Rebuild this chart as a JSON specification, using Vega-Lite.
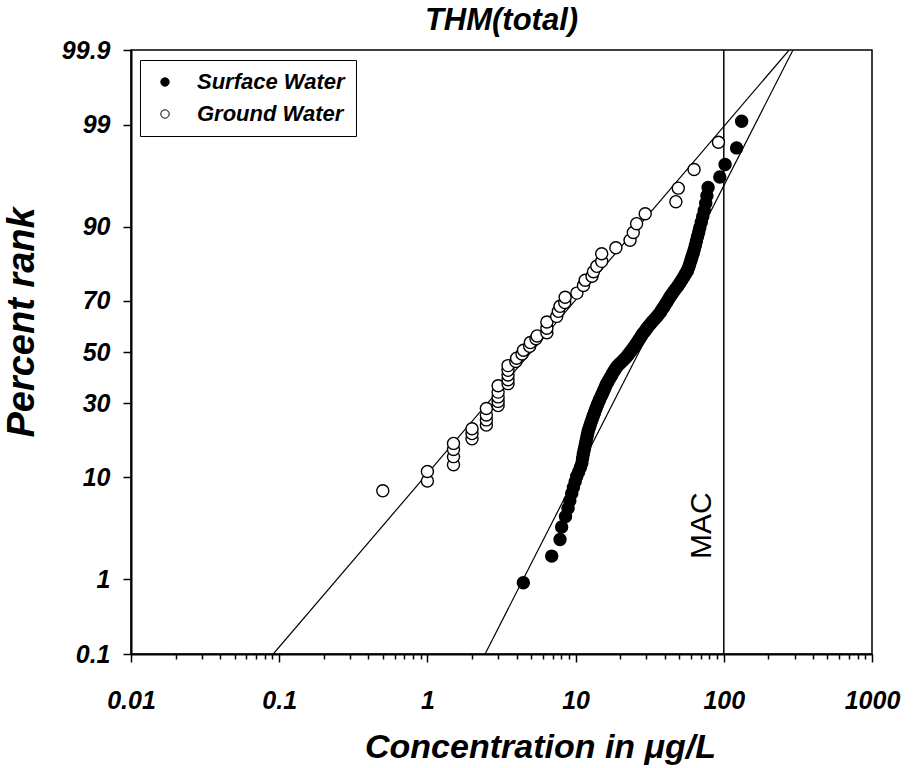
{
  "$schema": "https://vega.github.io/schema/vega-lite/v6.json",
  "width": 741,
  "height": 604,
  "autosize": "none",
  "padding": {"left": 131, "top": 50, "right": 43, "bottom": 114},
  "background": "white",
  "title": {"text": "THM(total)", "font": "Liberation Sans", "fontSize": 31, "fontWeight": "bold", "fontStyle": "italic", "color": "black", "anchor": "middle", "frame": "group", "offset": 15, "baseline": "alphabetic", "dy": 38},
  "config": {"view": {"stroke": "black", "strokeWidth": 1.5}, "font": "Liberation Sans"},
  "datasets": {
    "points": [
      {"series": "Ground Water", "conc": 0.5, "rank": 7.8},
      {"series": "Ground Water", "conc": 1.0, "rank": 9.4},
      {"series": "Ground Water", "conc": 1.0, "rank": 11.2},
      {"series": "Ground Water", "conc": 1.5, "rank": 12.6},
      {"series": "Ground Water", "conc": 1.5, "rank": 14.3},
      {"series": "Ground Water", "conc": 1.5, "rank": 16.0},
      {"series": "Ground Water", "conc": 1.5, "rank": 17.6},
      {"series": "Ground Water", "conc": 2.0, "rank": 18.8},
      {"series": "Ground Water", "conc": 2.0, "rank": 20.2},
      {"series": "Ground Water", "conc": 2.0, "rank": 21.7},
      {"series": "Ground Water", "conc": 2.5, "rank": 22.8},
      {"series": "Ground Water", "conc": 2.5, "rank": 24.4},
      {"series": "Ground Water", "conc": 2.5, "rank": 26.0},
      {"series": "Ground Water", "conc": 2.5, "rank": 28.2},
      {"series": "Ground Water", "conc": 3.0, "rank": 29.2},
      {"series": "Ground Water", "conc": 3.0, "rank": 30.7},
      {"series": "Ground Water", "conc": 3.0, "rank": 32.4},
      {"series": "Ground Water", "conc": 3.0, "rank": 34.2},
      {"series": "Ground Water", "conc": 3.0, "rank": 36.6},
      {"series": "Ground Water", "conc": 3.5, "rank": 37.4},
      {"series": "Ground Water", "conc": 3.5, "rank": 38.9},
      {"series": "Ground Water", "conc": 3.5, "rank": 40.7},
      {"series": "Ground Water", "conc": 3.5, "rank": 42.6},
      {"series": "Ground Water", "conc": 3.5, "rank": 44.5},
      {"series": "Ground Water", "conc": 3.95, "rank": 46.2},
      {"series": "Ground Water", "conc": 4.0, "rank": 47.5},
      {"series": "Ground Water", "conc": 4.35, "rank": 49.2},
      {"series": "Ground Water", "conc": 4.45, "rank": 50.7},
      {"series": "Ground Water", "conc": 4.9, "rank": 52.3},
      {"series": "Ground Water", "conc": 4.95, "rank": 53.8},
      {"series": "Ground Water", "conc": 5.4, "rank": 55.4},
      {"series": "Ground Water", "conc": 5.5, "rank": 56.5},
      {"series": "Ground Water", "conc": 6.4, "rank": 57.8},
      {"series": "Ground Water", "conc": 6.4, "rank": 59.6},
      {"series": "Ground Water", "conc": 6.4, "rank": 62.0},
      {"series": "Ground Water", "conc": 7.45, "rank": 64.1},
      {"series": "Ground Water", "conc": 7.65, "rank": 66.0},
      {"series": "Ground Water", "conc": 7.85, "rank": 67.9},
      {"series": "Ground Water", "conc": 8.45, "rank": 69.3},
      {"series": "Ground Water", "conc": 8.5, "rank": 71.2},
      {"series": "Ground Water", "conc": 10.2, "rank": 72.6},
      {"series": "Ground Water", "conc": 11.3, "rank": 75.2},
      {"series": "Ground Water", "conc": 11.6, "rank": 76.8},
      {"series": "Ground Water", "conc": 12.9, "rank": 78.0},
      {"series": "Ground Water", "conc": 13.2, "rank": 79.4},
      {"series": "Ground Water", "conc": 13.9, "rank": 80.9},
      {"series": "Ground Water", "conc": 15.0, "rank": 82.2},
      {"series": "Ground Water", "conc": 15.0, "rank": 84.2},
      {"series": "Ground Water", "conc": 18.7, "rank": 85.6},
      {"series": "Ground Water", "conc": 23.3, "rank": 87.2},
      {"series": "Ground Water", "conc": 24.5, "rank": 88.8},
      {"series": "Ground Water", "conc": 25.8, "rank": 90.5},
      {"series": "Ground Water", "conc": 29.5, "rank": 92.1},
      {"series": "Ground Water", "conc": 47.5, "rank": 93.7},
      {"series": "Ground Water", "conc": 49.3, "rank": 95.3},
      {"series": "Ground Water", "conc": 63, "rank": 96.9},
      {"series": "Ground Water", "conc": 92, "rank": 98.4},
      {"series": "Surface Water", "conc": 4.44, "rank": 0.93},
      {"series": "Surface Water", "conc": 6.9, "rank": 1.85},
      {"series": "Surface Water", "conc": 7.85, "rank": 2.78},
      {"series": "Surface Water", "conc": 8.05, "rank": 3.7},
      {"series": "Surface Water", "conc": 8.55, "rank": 4.63},
      {"series": "Surface Water", "conc": 8.89, "rank": 5.56},
      {"series": "Surface Water", "conc": 9.14, "rank": 6.48},
      {"series": "Surface Water", "conc": 9.42, "rank": 7.41},
      {"series": "Surface Water", "conc": 9.66, "rank": 8.33},
      {"series": "Surface Water", "conc": 9.93, "rank": 9.26},
      {"series": "Surface Water", "conc": 10.18, "rank": 10.19},
      {"series": "Surface Water", "conc": 10.47, "rank": 11.11},
      {"series": "Surface Water", "conc": 10.77, "rank": 12.04},
      {"series": "Surface Water", "conc": 11.02, "rank": 12.96},
      {"series": "Surface Water", "conc": 11.14, "rank": 13.89},
      {"series": "Surface Water", "conc": 11.27, "rank": 14.81},
      {"series": "Surface Water", "conc": 11.4, "rank": 15.74},
      {"series": "Surface Water", "conc": 11.53, "rank": 16.67},
      {"series": "Surface Water", "conc": 11.67, "rank": 17.59},
      {"series": "Surface Water", "conc": 11.8, "rank": 18.52},
      {"series": "Surface Water", "conc": 11.94, "rank": 19.44},
      {"series": "Surface Water", "conc": 12.07, "rank": 20.37},
      {"series": "Surface Water", "conc": 12.21, "rank": 21.3},
      {"series": "Surface Water", "conc": 12.41, "rank": 22.22},
      {"series": "Surface Water", "conc": 12.59, "rank": 23.15},
      {"series": "Surface Water", "conc": 12.79, "rank": 24.07},
      {"series": "Surface Water", "conc": 13.0, "rank": 25.0},
      {"series": "Surface Water", "conc": 13.21, "rank": 25.93},
      {"series": "Surface Water", "conc": 13.43, "rank": 26.85},
      {"series": "Surface Water", "conc": 13.62, "rank": 27.78},
      {"series": "Surface Water", "conc": 13.84, "rank": 28.7},
      {"series": "Surface Water", "conc": 14.09, "rank": 29.63},
      {"series": "Surface Water", "conc": 14.32, "rank": 30.56},
      {"series": "Surface Water", "conc": 14.55, "rank": 31.48},
      {"series": "Surface Water", "conc": 14.82, "rank": 32.41},
      {"series": "Surface Water", "conc": 15.07, "rank": 33.33},
      {"series": "Surface Water", "conc": 15.31, "rank": 34.26},
      {"series": "Surface Water", "conc": 15.6, "rank": 35.19},
      {"series": "Surface Water", "conc": 15.85, "rank": 36.11},
      {"series": "Surface Water", "conc": 16.11, "rank": 37.04},
      {"series": "Surface Water", "conc": 16.44, "rank": 37.96},
      {"series": "Surface Water", "conc": 16.79, "rank": 38.89},
      {"series": "Surface Water", "conc": 17.18, "rank": 39.81},
      {"series": "Surface Water", "conc": 17.54, "rank": 40.74},
      {"series": "Surface Water", "conc": 17.91, "rank": 41.67},
      {"series": "Surface Water", "conc": 18.32, "rank": 42.59},
      {"series": "Surface Water", "conc": 18.71, "rank": 43.52},
      {"series": "Surface Water", "conc": 19.23, "rank": 44.44},
      {"series": "Surface Water", "conc": 19.91, "rank": 45.37},
      {"series": "Surface Water", "conc": 20.65, "rank": 46.3},
      {"series": "Surface Water", "conc": 21.38, "rank": 47.22},
      {"series": "Surface Water", "conc": 22.18, "rank": 48.15},
      {"series": "Surface Water", "conc": 22.75, "rank": 49.07},
      {"series": "Surface Water", "conc": 23.38, "rank": 50.0},
      {"series": "Surface Water", "conc": 23.99, "rank": 50.93},
      {"series": "Surface Water", "conc": 24.66, "rank": 51.85},
      {"series": "Surface Water", "conc": 25.29, "rank": 52.78},
      {"series": "Surface Water", "conc": 25.94, "rank": 53.7},
      {"series": "Surface Water", "conc": 26.55, "rank": 54.63},
      {"series": "Surface Water", "conc": 27.16, "rank": 55.56},
      {"series": "Surface Water", "conc": 27.73, "rank": 56.48},
      {"series": "Surface Water", "conc": 28.38, "rank": 57.41},
      {"series": "Surface Water", "conc": 29.24, "rank": 58.33},
      {"series": "Surface Water", "conc": 30.0, "rank": 59.26},
      {"series": "Surface Water", "conc": 30.83, "rank": 60.19},
      {"series": "Surface Water", "conc": 31.84, "rank": 61.11},
      {"series": "Surface Water", "conc": 32.89, "rank": 62.04},
      {"series": "Surface Water", "conc": 33.97, "rank": 62.96},
      {"series": "Surface Water", "conc": 35.16, "rank": 63.89},
      {"series": "Surface Water", "conc": 36.31, "rank": 64.81},
      {"series": "Surface Water", "conc": 37.41, "rank": 65.74},
      {"series": "Surface Water", "conc": 38.28, "rank": 66.67},
      {"series": "Surface Water", "conc": 39.26, "rank": 67.59},
      {"series": "Surface Water", "conc": 40.18, "rank": 68.52},
      {"series": "Surface Water", "conc": 41.21, "rank": 69.44},
      {"series": "Surface Water", "conc": 42.17, "rank": 70.37},
      {"series": "Surface Water", "conc": 43.25, "rank": 71.3},
      {"series": "Surface Water", "conc": 44.57, "rank": 72.22},
      {"series": "Surface Water", "conc": 45.92, "rank": 73.15},
      {"series": "Surface Water", "conc": 47.42, "rank": 74.07},
      {"series": "Surface Water", "conc": 48.98, "rank": 75.0},
      {"series": "Surface Water", "conc": 50.47, "rank": 75.93},
      {"series": "Surface Water", "conc": 52.0, "rank": 76.85},
      {"series": "Surface Water", "conc": 53.58, "rank": 77.78},
      {"series": "Surface Water", "conc": 55.08, "rank": 78.7},
      {"series": "Surface Water", "conc": 56.75, "rank": 79.63},
      {"series": "Surface Water", "conc": 57.94, "rank": 80.56},
      {"series": "Surface Water", "conc": 58.88, "rank": 81.48},
      {"series": "Surface Water", "conc": 59.98, "rank": 82.41},
      {"series": "Surface Water", "conc": 60.95, "rank": 83.33},
      {"series": "Surface Water", "conc": 62.09, "rank": 84.26},
      {"series": "Surface Water", "conc": 63.1, "rank": 85.19},
      {"series": "Surface Water", "conc": 64.27, "rank": 86.11},
      {"series": "Surface Water", "conc": 65.31, "rank": 87.04},
      {"series": "Surface Water", "conc": 66.53, "rank": 87.96},
      {"series": "Surface Water", "conc": 67.76, "rank": 88.89},
      {"series": "Surface Water", "conc": 68.87, "rank": 89.81},
      {"series": "Surface Water", "conc": 70.47, "rank": 90.74},
      {"series": "Surface Water", "conc": 72.11, "rank": 91.67},
      {"series": "Surface Water", "conc": 73.79, "rank": 92.59},
      {"series": "Surface Water", "conc": 75.51, "rank": 93.52},
      {"series": "Surface Water", "conc": 76.91, "rank": 94.44},
      {"series": "Surface Water", "conc": 78.34, "rank": 95.37},
      {"series": "Surface Water", "conc": 94, "rank": 96.3},
      {"series": "Surface Water", "conc": 102, "rank": 97.22},
      {"series": "Surface Water", "conc": 122, "rank": 98.15},
      {"series": "Surface Water", "conc": 132, "rank": 99.07}
    ],
    "fits": [
      {"series": "Ground Water", "conc": 0.0912, "rank": 0.1},
      {"series": "Ground Water", "conc": 276, "rank": 99.9},
      {"series": "Surface Water", "conc": 2.45, "rank": 0.1},
      {"series": "Surface Water", "conc": 293, "rank": 99.9}
    ],
    "mac": [
      {"conc": 100, "rank": 3.8, "label": "MAC"}
    ]
  },
  "layer": [
    {
      "data": {"name": "mac"},
      "mark": {"type": "rule", "color": "black", "strokeWidth": 1.5},
      "encoding": {
        "x": {"field": "conc", "type": "quantitative", "scale": {"type": "log", "domain": [0.01, 1000], "nice": false}}
      }
    },
    {
      "data": {"name": "mac"},
      "mark": {"type": "text", "font": "Liberation Sans", "fontSize": 30, "color": "black", "angle": 270, "align": "center", "baseline": "alphabetic", "dy": -13},
      "encoding": {
        "x": {"field": "conc", "type": "quantitative", "scale": {"type": "log", "domain": [0.01, 1000], "nice": false}},
        "y": {"field": "rank", "type": "quantitative"},
        "text": {"field": "label"}
      }
    },
    {
      "data": {"name": "fits"},
      "mark": {"type": "line", "color": "black", "strokeWidth": 1.2, "clip": true},
      "encoding": {
        "x": {"field": "conc", "type": "quantitative"},
        "y": {"field": "rank", "type": "quantitative"},
        "detail": {"field": "series"}
      }
    },
    {
      "data": {"name": "points"},
      "mark": {"type": "point", "shape": "circle", "filled": true, "stroke": "black", "strokeWidth": 1.4, "size": 145, "opacity": 1},
      "encoding": {
        "x": {
          "field": "conc", "type": "quantitative",
          "scale": {"type": "log", "domain": [0.01, 1000], "nice": false},
          "axis": {
            "values": [0.01,0.02,0.03,0.04,0.05,0.06,0.07,0.08,0.09,0.1,0.2,0.3,0.4,0.5,0.6,0.7,0.8,0.9,1,2,3,4,5,6,7,8,9,10,20,30,40,50,60,70,80,90,100,200,300,400,500,600,700,800,900,1000],
            "labelExpr": "indexof(['0.01','0.1','1','10','100','1000'], toString(datum.value)) >= 0 ? toString(datum.value) : ''",
            "labelFont": "Liberation Sans", "labelFontSize": 25, "labelFontWeight": "bold", "labelFontStyle": "italic", "labelColor": "black",
            "labelPadding": 26, "labelFlush": false, "labelOverlap": false, "labelBound": false,
            "domainColor": "black", "domainWidth": 2,
            "tickColor": "black", "tickWidth": 1.5,
            "tickSize": {"condition": {"test": "indexof(['0.01','0.1','1','10','100','1000'], toString(datum.value)) >= 0", "value": 8}, "value": 5},
            "grid": false,
            "title": "Concentration in μg/L",
            "titleFont": "Liberation Sans", "titleFontSize": 34, "titleFontWeight": "bold", "titleFontStyle": "italic", "titleColor": "black",
            "titleX": 409, "titleY": 103, "titleBaseline": "alphabetic", "titleAlign": "center"
          }
        },
        "y": {
          "field": "rank", "type": "quantitative",
          "scale": {
            "type": "linear", "nice": false, "zero": false,
            "domain": [0.1,0.2,0.5,1,1.5,2,3,4,5,7.5,10,15,20,25,30,40,50,60,70,75,80,85,90,92.5,95,96,97,98,98.5,99,99.5,99.8,99.9],
            "range": [604,583.28,553.73,529.35,514.08,502.70,485.81,473.09,462.75,442.68,427.25,403.29,384.25,367.92,353.25,326.75,302,277.25,250.75,236.08,219.75,200.71,176.75,161.32,141.25,130.91,118.19,101.30,89.92,74.65,50.27,20.72,0]
          },
          "axis": {
            "values": [0.1,1,10,30,50,70,90,99,99.9],
            "labelExpr": "toString(datum.value)",
            "labelFont": "Liberation Sans", "labelFontSize": 25, "labelFontWeight": "bold", "labelFontStyle": "italic", "labelColor": "black",
            "labelPadding": 13, "labelFlush": false, "labelOverlap": false, "labelBound": false,
            "domainColor": "black", "domainWidth": 2,
            "tickColor": "black", "tickWidth": 1.5, "tickSize": 8,
            "grid": false,
            "title": "Percent rank",
            "titleFont": "Liberation Sans", "titleFontSize": 38, "titleFontWeight": "bold", "titleFontStyle": "italic", "titleColor": "black",
            "titleX": -98, "titleY": 272, "titleBaseline": "alphabetic", "titleAlign": "center", "titleAngle": 270
          }
        },
        "fill": {
          "field": "series", "type": "nominal",
          "scale": {"domain": ["Surface Water", "Ground Water"], "range": ["black", "white"]},
          "legend": {
            "orient": "none", "legendX": 9, "legendY": 10, "title": null,
            "strokeColor": "black", "fillColor": "white", "padding": 11,
            "labelFont": "Liberation Sans", "labelFontSize": 22, "labelFontWeight": "bold", "labelFontStyle": "italic", "labelColor": "black",
            "symbolType": "circle", "symbolSize": 70, "symbolStrokeColor": "black", "symbolStrokeWidth": 1,
            "rowPadding": 10, "labelOffset": 21, "symbolOffset": 3
          }
        }
      }
    }
  ]
}
